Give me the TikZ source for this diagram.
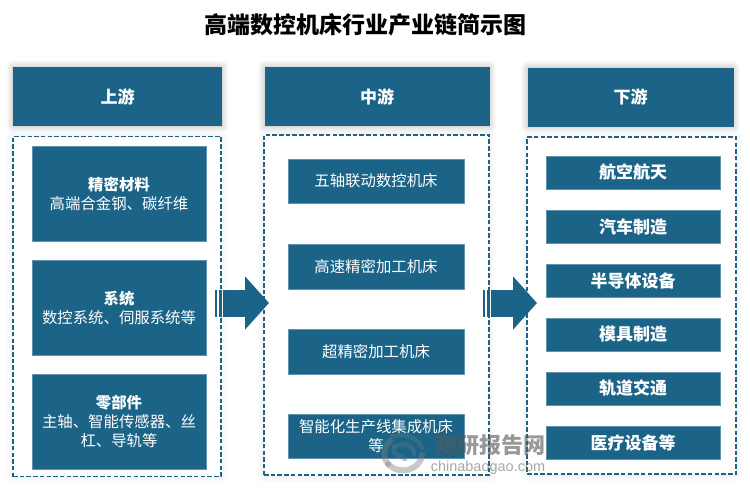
\documentclass[tikz,border=0pt]{standalone}
\usepackage{fontspec}
\setmainfont{Noto Sans CJK SC}
\newfontfamily\wmfont{Liberation Sans}
\usetikzlibrary{shadows.blur,arrows.meta}
\definecolor{teal}{HTML}{1B6487}
\tikzset{
  softshadow/.style={blur shadow={shadow xshift=0pt,shadow yshift=0pt,shadow blur radius=7pt,shadow opacity=30,shadow blur steps=8}},
  faintshadow/.style={blur shadow={shadow xshift=0pt,shadow yshift=-1pt,shadow blur radius=8pt,shadow opacity=10,shadow blur steps=8}},
  header/.style={fill=teal,softshadow,text=white,font=\fontsize{17}{20}\selectfont\bfseries,inner sep=0pt},
  panel/.style={draw=teal,fill=white,dash pattern=on 4.5pt off 2.2pt,line width=1.5pt,faintshadow,inner sep=0pt},
  item/.style={fill=teal,draw=teal!70!white,line width=.3pt,text=white,align=center,font=\fontsize{15.4}{19}\selectfont,inner sep=0pt},
  itembold/.style={item,font=\fontsize{17}{20}\selectfont\bfseries},
  blockarrow/.style={draw=teal,line width=27pt,-{Triangle[width=52pt,length=24pt]}},
  stripe/.style={fill=teal,inner sep=0pt,minimum height=27pt},
  logoarc/.style={line width=4.5pt,opacity=.42,line cap=round},
}
\begin{document}
\begin{tikzpicture}[x=1pt,y=-1pt]
\useasboundingbox (0,0) rectangle (750,488);
\node[font=\fontsize{23}{26}\selectfont\bfseries,inner sep=0pt] (title) at (365,25) {高端数控机床行业产业链简示图};

% headers
\node[header,minimum width=209pt,minimum height=59pt] (h1) at (117.5,96.5) {上游};
\node[header,minimum width=225pt,minimum height=59pt] (h2) at (377,96.5) {中游};
\node[header,minimum width=206pt,minimum height=59pt] (h3) at (630.5,97) {下游};

% panels
\node[panel,minimum width=208pt,minimum height=340pt] (p1) at (117,306.5) {};
\node[panel,minimum width=225pt,minimum height=340pt] (p2) at (376.5,305) {};
\node[panel,minimum width=209pt,minimum height=337pt] (p3) at (631.5,305.5) {};

% left column
\node[item,minimum width=174pt,minimum height=95pt] (a1) at (119,193.5) {\textbf{精密材料}\\高端合金钢、碳纤维};
\node[item,minimum width=174pt,minimum height=95pt] (a2) at (119,307.5) {\textbf{系统}\\数控系统、伺服系统等};
\node[item,minimum width=174pt,minimum height=95pt] (a3) at (119,421.5) {\textbf{零部件}\\主轴、智能传感器、丝\\杠、导轨等};

% middle column
\node[item,minimum width=176pt,minimum height=44pt] (b1) at (376,181) {五轴联动数控机床};
\node[item,minimum width=176pt,minimum height=45pt] (b2) at (376,266.5) {高速精密加工机床};
\node[item,minimum width=176pt,minimum height=45pt] (b3) at (376,351.5) {超精密加工机床};
\node[item,minimum width=176pt,minimum height=44pt] (b4) at (376,436) {智能化生产线集成机床\\等};

% right column
\node[itembold,minimum width=174pt,minimum height=33pt] (c1) at (633,172.5) {航空航天};
\node[itembold,minimum width=174pt,minimum height=33pt] (c2) at (633,226.5) {汽车制造};
\node[itembold,minimum width=174pt,minimum height=33pt] (c3) at (633,280.5) {半导体设备};
\node[itembold,minimum width=174pt,minimum height=33pt] (c4) at (633,334.5) {模具制造};
\node[itembold,minimum width=174pt,minimum height=33pt] (c5) at (633,388.5) {轨道交通};
\node[itembold,minimum width=174pt,minimum height=33pt] (c6) at (633,442.5) {医疗设备等};

% block arrows
\coordinate (ar1s) at (223,303);
\coordinate (ar1e) at (269,303);
\draw[blockarrow] (ar1s) -- (ar1e);
\node[stripe,minimum width=2pt] (s1a) at (216,303) {};
\node[stripe,minimum width=3pt] (s1b) at (220.5,303) {};
\coordinate (ar2s) at (491,303);
\coordinate (ar2e) at (537,303);
\draw[blockarrow] (ar2s) -- (ar2e);
\node[stripe,minimum width=2pt] (s2a) at (484,303) {};
\node[stripe,minimum width=3pt] (s2b) at (488.5,303) {};

% watermark
\draw[logoarc,gray,line width=6pt] (388,464) .. controls (400,476) and (420,470) .. (422,455);
\draw[logoarc,gray,line width=6pt] (388,464) .. controls (381,455) and (385,445) .. (390,441);
\draw[logoarc,gray!60!teal] (392,437) .. controls (402,432) and (418,437) .. (422,448);
\draw[logoarc,gray!60!teal] (394,447) .. controls (404,441) and (414,446) .. (414,454);
\draw[logoarc,gray!60!teal] (394,447) .. controls (392,456) and (402,456) .. (405,459);
\begin{scope}[opacity=.62]
\node[font=\fontsize{22}{24}\selectfont\bfseries,text=black!65,inner sep=0pt] (wm1) at (490,445.5) {观研报告网};
\node[font=\wmfont\fontsize{14.5}{16}\selectfont,text=black!55,inner sep=0pt] (wm2) at (488,468) {chinabaogao.com};
\end{scope}
\end{tikzpicture}
\end{document}
